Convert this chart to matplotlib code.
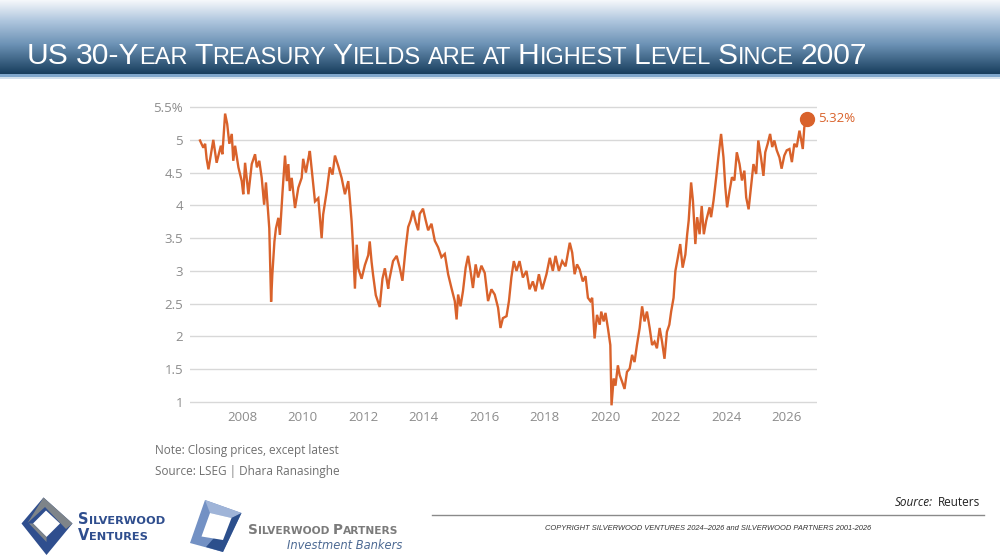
import numpy as np
import matplotlib.pyplot as plt
from matplotlib import font_manager as fm
from matplotlib.colors import LinearSegmentedColormap
from matplotlib.patches import Polygon, Rectangle
from matplotlib.lines import Line2D

# US 30-year treasury yield (decimal year, %)
years = [
    2006.61, 2006.72, 2006.78, 2006.83, 2006.89, 2007.05, 2007.16, 2007.30, 2007.35, 2007.44,
    2007.51, 2007.58, 2007.66, 2007.71, 2007.77, 2007.88, 2007.99, 2008.04, 2008.10, 2008.21,
    2008.32, 2008.43, 2008.49, 2008.57, 2008.65, 2008.73, 2008.79, 2008.85, 2008.90, 2008.96,
    2009.00, 2009.07, 2009.12, 2009.20, 2009.25, 2009.34, 2009.42, 2009.48, 2009.53, 2009.58,
    2009.64, 2009.75, 2009.86, 2009.97, 2010.02, 2010.11, 2010.19, 2010.24, 2010.33, 2010.41,
    2010.52, 2010.63, 2010.68, 2010.80, 2010.90, 2010.99, 2011.07, 2011.18, 2011.29, 2011.40,
    2011.51, 2011.56, 2011.62, 2011.67, 2011.73, 2011.79, 2011.84, 2011.95, 2012.06, 2012.17,
    2012.22, 2012.28, 2012.33, 2012.42, 2012.55, 2012.64, 2012.72, 2012.83, 2012.86, 2012.99,
    2013.11, 2013.21, 2013.30, 2013.41, 2013.49, 2013.57, 2013.65, 2013.74, 2013.82, 2013.87,
    2013.98, 2014.07, 2014.15, 2014.26, 2014.37, 2014.48, 2014.59, 2014.70, 2014.81, 2014.92,
    2015.03, 2015.09, 2015.14, 2015.22, 2015.30, 2015.39, 2015.47, 2015.55, 2015.63, 2015.72,
    2015.80, 2015.91, 2016.02, 2016.13, 2016.24, 2016.35, 2016.46, 2016.54, 2016.62, 2016.74,
    2016.82, 2016.90, 2016.98, 2017.07, 2017.17, 2017.28, 2017.40, 2017.50, 2017.61, 2017.70,
    2017.81, 2017.92, 2018.06, 2018.17, 2018.27, 2018.36, 2018.47, 2018.58, 2018.69, 2018.83,
    2018.91, 2018.99, 2019.07, 2019.16, 2019.26, 2019.35, 2019.43, 2019.51, 2019.57, 2019.65,
    2019.73, 2019.82, 2019.87, 2019.95, 2020.01, 2020.09, 2020.17, 2020.21, 2020.28, 2020.34,
    2020.42, 2020.48, 2020.56, 2020.64, 2020.72, 2020.81, 2020.89, 2020.97, 2021.05, 2021.14,
    2021.22, 2021.30, 2021.38, 2021.47, 2021.55, 2021.63, 2021.71, 2021.80, 2021.88, 2021.96,
    2022.04, 2022.12, 2022.18, 2022.26, 2022.32, 2022.40, 2022.48, 2022.56, 2022.65, 2022.71,
    2022.76, 2022.84, 2022.90, 2022.98, 2023.04, 2023.12, 2023.19, 2023.26, 2023.34, 2023.45,
    2023.50, 2023.58, 2023.67, 2023.74, 2023.83, 2023.91, 2023.97, 2024.03, 2024.11, 2024.19,
    2024.27, 2024.35, 2024.44, 2024.52, 2024.60, 2024.66, 2024.74, 2024.82, 2024.90, 2024.99,
    2025.06, 2025.15, 2025.23, 2025.29, 2025.37, 2025.45, 2025.52, 2025.59, 2025.67, 2025.76,
    2025.83, 2025.92, 2026.00, 2026.09, 2026.17, 2026.25, 2026.33, 2026.42, 2026.47, 2026.53,
    2026.58, 2026.66,
]
yields = [
    4.99, 4.88, 4.94, 4.71, 4.55, 5.00, 4.65, 4.91, 4.78, 5.40,
    5.24, 4.94, 5.09, 4.68, 4.91, 4.58, 4.37, 4.17, 4.65, 4.17,
    4.63, 4.78, 4.58, 4.68, 4.42, 4.01, 4.35, 3.96, 3.65, 2.53,
    2.94, 3.45, 3.65, 3.81, 3.55, 4.22, 4.76, 4.37, 4.63, 4.22,
    4.42, 3.96, 4.27, 4.42, 4.71, 4.50, 4.71, 4.83, 4.42, 4.06,
    4.11, 3.50, 3.86, 4.22, 4.58, 4.47, 4.76, 4.60, 4.42, 4.17,
    4.37, 4.11, 3.76, 3.35, 2.73, 3.40, 3.04, 2.88, 3.09, 3.24,
    3.45, 3.14, 2.94, 2.63, 2.45, 2.88, 3.04, 2.73, 2.85, 3.15,
    3.23, 3.05, 2.85, 3.36, 3.67, 3.77, 3.92, 3.74, 3.62, 3.87,
    3.95, 3.77, 3.62, 3.72, 3.46, 3.36, 3.21, 3.26, 2.95, 2.74,
    2.54, 2.26, 2.64, 2.46, 2.69, 3.05, 3.23, 3.00, 2.74, 3.10,
    2.90, 3.08, 2.97, 2.54, 2.72, 2.64, 2.44, 2.13, 2.28, 2.31,
    2.54, 2.90, 3.15, 3.00, 3.15, 2.90, 3.00, 2.72, 2.84, 2.69,
    2.95, 2.72, 2.95, 3.20, 3.00, 3.23, 3.00, 3.15, 3.07, 3.43,
    3.28, 2.95, 3.10, 3.02, 2.84, 2.92, 2.59, 2.54, 2.59, 1.97,
    2.33, 2.18, 2.38, 2.23, 2.36, 2.13, 1.87, 0.95, 1.36, 1.25,
    1.56, 1.41, 1.31, 1.20, 1.46, 1.51, 1.72, 1.61, 1.87, 2.13,
    2.46, 2.23, 2.38, 2.13, 1.87, 1.92, 1.82, 2.13, 1.92, 1.66,
    2.07, 2.18, 2.38, 2.59, 3.00, 3.20, 3.41, 3.05, 3.25, 3.56,
    3.77, 4.35, 4.07, 3.41, 3.82, 3.56, 3.99, 3.56, 3.77, 3.97,
    3.82, 4.07, 4.43, 4.73, 5.09, 4.73, 4.28, 3.97, 4.22, 4.43,
    4.38, 4.81, 4.63, 4.38, 4.53, 4.12, 3.94, 4.28, 4.63, 4.48,
    4.99, 4.73, 4.45, 4.81, 4.94, 5.09, 4.89, 4.99, 4.84, 4.73,
    4.56, 4.76, 4.84, 4.86, 4.66, 4.94, 4.89, 5.14, 5.02, 4.86,
    5.19, 5.32,
]

y_ticks = [1, 1.5, 2, 2.5, 3, 3.5, 4, 4.5, 5, 5.5]
y_tick_labels = ['1', '1.5', '2', '2.5', '3', '3.5', '4', '4.5', '5', '5.5%']
x_ticks = [2008, 2010, 2012, 2014, 2016, 2018, 2020, 2022, 2024, 2026]
latest_label = '5.32%'

W, H = 1000, 560
ORANGE = '#d9622b'


def has_font(name):
    try:
        fm.findfont(name, fallback_to_default=False)
        return True
    except ValueError:
        return False


NARROW = has_font('Liberation Sans Narrow')
CHART_FONT = 'Open Sans' if has_font('Open Sans') else 'DejaVu Sans'


def fx(px):
    return px / W


def fy(py):
    return 1 - py / H


fig = plt.figure(figsize=(10, 5.6), dpi=100)
renderer = fig.canvas.get_renderer()


def text_width(t):
    return t.get_window_extent(renderer=renderer).width


def small_caps(x, y, words, big, small, **kw):
    # words: list of [(text, is_big), ...]; spacing from a small-size space
    probe1 = fig.text(0, 0, 'X X', fontsize=small, **kw)
    probe2 = fig.text(0, 0, 'XX', fontsize=small, **kw)
    space = text_width(probe1) - text_width(probe2)
    probe1.remove()
    probe2.remove()
    for word in words:
        for piece, is_big in word:
            t = fig.text(fx(x), fy(y), piece, fontsize=big if is_big else small,
                         ha='left', va='baseline', **kw)
            x += text_width(t)
        x += space
    return x


# header band with vertical gradient
hdr = fig.add_axes([0, fy(74), 1, 74 / H])
cmap = LinearSegmentedColormap.from_list(
    'hdr', [(0, '#f6f8fb'), (0.28, '#afc6de'), (0.6, '#6c92b5'), (1, '#173d5c')])
hdr.imshow(np.linspace(0, 1, 256).reshape(-1, 1), aspect='auto', cmap=cmap,
           extent=[0, 1, 0, 1])
hdr.axis('off')
fig.add_artist(Rectangle((0, fy(77)), 1, 3 / H, transform=fig.transFigure,
                         color='#7fa6cb', lw=0))
fig.add_artist(Rectangle((0, fy(78.5)), 1, 1.5 / H, transform=fig.transFigure,
                         color='#d3e0ec', lw=0))

title_words = [
    [('US', True)], [('30-Y', True), ('EAR', False)], [('T', True), ('REASURY', False)],
    [('Y', True), ('IELDS', False)], [('ARE', False)], [('AT', False)],
    [('H', True), ('IGHEST', False)], [('L', True), ('EVEL', False)],
    [('S', True), ('INCE', False)], [('2007', True)],
]
if NARROW:
    small_caps(27, 64, title_words, 25.5, 19.4, color='white', family='Liberation Sans Narrow')
else:
    small_caps(27, 64, title_words, 21.6, 17.0, color='white', family='Liberation Sans')

# main chart
ax = fig.add_axes([fx(190), fy(408.6), fx(627), 308.1 / H])
ax.plot(years, yields, color=ORANGE, lw=1.7, solid_joinstyle='miter')
ax.plot(years[-1], yields[-1], 'o', ms=10, color=ORANGE)
ax.annotate(latest_label, (years[-1], yields[-1]), xytext=(8, 0),
            textcoords='offset points', va='center', ha='left',
            color=ORANGE, fontsize=9.5, family=CHART_FONT)
ax.set_xlim(2006.28, 2027.0)
ax.set_ylim(0.9, 5.6)
ax.set_yticks(y_ticks)
ax.set_yticklabels(y_tick_labels)
ax.set_xticks(x_ticks)
ax.set_xticklabels([str(v) for v in x_ticks])
ax.yaxis.grid(True, color='#d8d8d8', lw=1)
ax.set_axisbelow(True)
for s in ax.spines.values():
    s.set_visible(False)
ax.tick_params(axis='y', length=0, pad=5, labelsize=9.5, labelcolor='#8c8c8c')
ax.tick_params(axis='x', length=0, pad=1.5, labelsize=9.5, labelcolor='#8c8c8c')
for lab in ax.get_xticklabels() + ax.get_yticklabels():
    lab.set_family(CHART_FONT)

fig.text(fx(155), fy(450.5), 'Note: Closing prices, except latest', fontsize=8.5,
         color='#6f6f6f', va='center', family=CHART_FONT)
fig.text(fx(155), fy(471.5), 'Source: LSEG | Dhara Ranasinghe', fontsize=8.5,
         color='#6f6f6f', va='center', family=CHART_FONT)

# Silverwood Ventures logo: blue diamond frame with a grey upper-right band
BLUE = '#2f4e8e'
GREY = '#7e8489'
fig.add_artist(Polygon([(fx(43.5), fy(497.5)), (fx(72.5), fy(523.5)),
                        (fx(46.5), fy(555)), (fx(21.5), fy(523.5))],
                       closed=True, transform=fig.transFigure, color=BLUE, lw=0))
fig.add_artist(Polygon([(fx(43.5), fy(497.5)), (fx(72.5), fy(523.5)),
                        (fx(66), fy(529)), (fx(45), fy(507)), (fx(27.5), fy(523))],
                       closed=True, transform=fig.transFigure, color=GREY, lw=0))
fig.add_artist(Polygon([(fx(46), fy(510.5)), (fx(60), fy(523.5)),
                        (fx(46.5), fy(537)), (fx(33), fy(523.5))],
                       closed=True, transform=fig.transFigure, color='white', lw=0))
fig.add_artist(Polygon([(fx(33), fy(523.5)), (fx(46.5), fy(537)),
                        (fx(46.5), fy(542)), (fx(29), fy(523.5))],
                       closed=True, transform=fig.transFigure, color=GREY, lw=0))
small_caps(78, 523.5, [[('S', True), ('ILVERWOOD', False)]], 10.5, 8.2,
           color=BLUE, weight='bold', family='DejaVu Sans')
small_caps(78, 539.5, [[('V', True), ('ENTURES', False)]], 10.5, 8.2,
           color=BLUE, weight='bold', family='DejaVu Sans')

# Silverwood Partners logo: tilted blue square with white window
fig.add_artist(Polygon([(fx(205), fy(500)), (fx(241.5), fy(513)),
                        (fx(223), fy(552)), (fx(190), fy(543))],
                       closed=True, transform=fig.transFigure, color='#7391c4', lw=0))
fig.add_artist(Polygon([(fx(205), fy(500)), (fx(241.5), fy(513)),
                        (fx(231.5), fy(518)), (fx(210), fy(513))],
                       closed=True, transform=fig.transFigure, color='#9fb4d8', lw=0))
fig.add_artist(Polygon([(fx(241.5), fy(513)), (fx(223), fy(552)),
                        (fx(206), fy(547)), (fx(231.5), fy(518))],
                       closed=True, transform=fig.transFigure, color='#2c4f8c', lw=0))
fig.add_artist(Polygon([(fx(210), fy(513)), (fx(231.5), fy(518)),
                        (fx(223), fy(540)), (fx(201.5), fy(536.5))],
                       closed=True, transform=fig.transFigure, color='white', lw=0))
small_caps(248, 533.5, [[('S', True), ('ILVERWOOD', False)], [('P', True), ('ARTNERS', False)]],
           9.8, 7.7, color='#7b7b7b', weight='bold', family='DejaVu Sans')
fig.text(fx(402), fy(549), 'Investment Bankers', fontsize=8.3, style='italic',
         color='#4d6a93', ha='right', va='baseline', family='DejaVu Sans')

# footer
t_reu = fig.text(fx(980), fy(502), 'Reuters', fontsize=8.5, ha='right', va='center',
                 color='#222222', family=CHART_FONT)
fig.text(fx(980 - text_width(t_reu) - 5), fy(502), 'Source:', fontsize=8.5,
         style='italic', ha='right', va='center', color='#222222', family=CHART_FONT)
fig.add_artist(Line2D([fx(432), fx(984)], [fy(514.5), fy(514.5)],
                      transform=fig.transFigure, color='#8a8a8a', lw=1))
copyright_text = 'COPYRIGHT SILVERWOOD VENTURES 2024\u20132026 and SILVERWOOD PARTNERS 2001-2026'
if NARROW:
    fig.text(fx(708), fy(528), copyright_text, fontsize=6.6, style='italic', ha='center',
             va='center', color='#333333', family='Liberation Sans Narrow')
else:
    fig.text(fx(708), fy(528), copyright_text, fontsize=5.4, style='italic', ha='center',
             va='center', color='#333333', family='Liberation Sans')

fig.savefig('out.png', dpi=100)
